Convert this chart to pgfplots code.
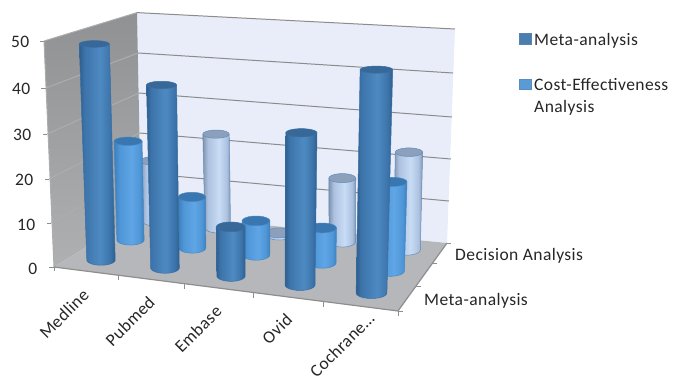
\documentclass[border=0pt]{standalone}
\usepackage{pgfplots}
\usepackage{pgfplotstable}
\usepackage{fontspec}
\setmainfont{Carlito}
\newfontfamily\chartfont[LetterSpace=2.5]{Carlito}
\pgfplotsset{compat=1.18}

\definecolor{txt}{HTML}{262626}
\definecolor{backwall}{HTML}{E8EDF9}
\definecolor{floorc}{HTML}{B5B7BA}
\definecolor{sidetop}{HTML}{8F9193}
\definecolor{sidebot}{HTML}{AEB0B2}
\definecolor{gridc}{HTML}{8C8C8C}
\definecolor{gridside}{HTML}{ABADAF}
\definecolor{axisc}{HTML}{8E8E8E}
% Column colours: edge, shoulder, centre, top face, outline
\definecolor{mE}{RGB}{46,94,140}\definecolor{mS}{RGB}{60,116,170}\definecolor{mC}{RGB}{78,138,194}
\definecolor{mT}{RGB}{56,104,152}\definecolor{mO}{RGB}{56,110,165}
\definecolor{cE}{RGB}{62,126,186}\definecolor{cS}{RGB}{78,150,215}\definecolor{cC}{RGB}{96,166,230}
\definecolor{cT}{RGB}{58,118,175}\definecolor{cO}{RGB}{70,135,195}
\definecolor{dE}{RGB}{130,148,172}\definecolor{dS}{RGB}{172,194,224}\definecolor{dC}{RGB}{200,220,245}
\definecolor{dT}{RGB}{140,160,188}\definecolor{dO}{RGB}{96,140,186}
\definecolor{legA}{RGB}{74,126,175}\definecolor{legB}{RGB}{91,155,213}
\definecolor{legAo}{RGB}{90,130,175}\definecolor{legBo}{RGB}{90,140,190}

% Cylinder body shadings, edge to centre to edge
\pgfdeclarehorizontalshading{cylmeta}{100bp}{
  color(0bp)=(mE); color(25bp)=(mE); color(32bp)=(mS); color(54bp)=(mC);
  color(68bp)=(mS); color(75bp)=(mE); color(100bp)=(mE)}
\pgfdeclarehorizontalshading{cylcost}{100bp}{
  color(0bp)=(cE); color(25bp)=(cE); color(34bp)=(cS); color(54bp)=(cC);
  color(68bp)=(cS); color(75bp)=(cE); color(100bp)=(cE)}
\pgfdeclarehorizontalshading{cyldec}{100bp}{
  color(0bp)=(dE); color(25bp)=(dE); color(34bp)=(dS); color(54bp)=(dC);
  color(68bp)=(dS); color(75bp)=(dE); color(100bp)=(dE)}

% One table per series: value, base centre (xb,yb), base half width, lean of the column
\pgfplotstableread{
cat value xb    yb  rx   lean
0   14.6  155.0 221 13.0 -0.020
1   22.5  217.8 228 12.8 -0.019
2   0.5   279.0 235 13.0  0.000
3   14.9  342.3 242 13.2  0.000
4   22.5  407.0 250 13.3  0.020
}\decisionTable
\pgfplotstableread{
cat value xb    yb  rx   lean
0   23.0  130.5 240 13.6 -0.025
1   11.7  192.3 248 13.5 -0.008
2   7.7   256.0 255 13.8  0.000
3   7.8   322.0 263 14.0  0.008
4   19.5  390.3 271 14.1  0.025
}\costTable
\pgfplotstableread{
cat value xb    yb  rx   lean
0   48.3  101.0 260 14.2 -0.031
1   40.2  165.0 268 14.3 -0.019
2   10.6  231.0 276 14.2 -0.008
3   32.3  300.0 285 15.0  0.009
4   46.6  371.5 293 15.4  0.022
}\metaTable

% Ellipse arc point list, appended to \pts
\newcommand{\addarc}[6]{%
  \foreach \a in {#5,...,#6}{%
    \pgfmathsetmacro{\px}{#1+#3*cos(\a)}%
    \pgfmathsetmacro{\py}{#2+#4*sin(\a)}%
    \xdef\pts{\pts (\px,\py)}%
  }}

% Draws the five columns of one series; px per value unit is #2 + #3*s, s along the category axis
\newcommand{\drawSeries}[6]{%
  \foreach \r in {0,...,4}{%
    \pgfplotstablegetelem{\r}{value}\of#1\let\vv\pgfplotsretval
    \pgfplotstablegetelem{\r}{xb}\of#1\let\xb\pgfplotsretval
    \pgfplotstablegetelem{\r}{yb}\of#1\let\yb\pgfplotsretval
    \pgfplotstablegetelem{\r}{rx}\of#1\let\rxb\pgfplotsretval
    \pgfplotstablegetelem{\r}{lean}\of#1\let\lean\pgfplotsretval
    \pgfmathsetmacro{\hh}{\vv*(#2+#3*(\r+0.5)/5)}%
    \pgfmathsetmacro{\yt}{\yb-\hh}%
    \pgfmathsetmacro{\xt}{\xb+\lean*\hh}%
    \pgfmathsetmacro{\rxt}{\rxb+0.004*\hh}%
    \pgfmathsetmacro{\ryb}{3+0.0085*\yb}%
    \pgfmathsetmacro{\ryt}{3+0.0085*\yt}%
    \gdef\pts{}%
    \addarc{\xb}{\yb}{\rxb}{\ryb}{0,15}{180}%
    \pgfmathsetmacro{\lx}{\xt-\rxt}\pgfmathsetmacro{\rrx}{\xt+\rxt}%
    \xdef\pts{\pts (\lx,\yt) (\rrx,\yt)}%
    \edef\cmd{\noexpand\addplot[forget plot,no markers,shade,shading=#4,draw=#6,line width=0.5bp] coordinates {\pts} --cycle;}%
    \cmd
    \gdef\pts{}%
    \addarc{\xt}{\yt}{\rxt}{\ryt}{0,20}{340}%
    \edef\cmd{\noexpand\addplot[forget plot,no markers,fill=#5,draw=#6,line width=0.5bp] coordinates {\pts} --cycle;}%
    \cmd
  }}

\begin{document}
\begin{tikzpicture}
\begin{axis}[
  at={(0,0)}, anchor=south west,
  width=673bp, height=378bp, scale only axis,
  xmin=0, xmax=673, ymin=0, ymax=378, y dir=reverse,
  hide axis, clip=false,
  every axis plot/.append style={forget plot, no markers},
]
\path (axis cs:0,0) rectangle (axis cs:673,378);

% Walls and floor
\addplot[fill=backwall,draw=none] coordinates {(137,12.6) (455,29) (447,243) (141,213)} --cycle;
\addplot[shade,top color=sidetop,bottom color=sidebot,draw=none] coordinates {(44,41) (137,12.6) (141,213) (54,267)} --cycle;
\addplot[fill=floorc,draw=none] coordinates {(54,267) (398,311) (447,243) (141,213)} --cycle;

% Gridlines on the side wall and the back wall
\addplot[gridside,line width=1bp] coordinates {(46,88) (138,53)};
\addplot[gridside,line width=1bp] coordinates {(47,134) (139,93)};
\addplot[gridside,line width=1bp] coordinates {(49,179) (139.5,133)};
\addplot[gridside,line width=1bp] coordinates {(51,223) (140,173)};
\addplot[gridside,line width=1bp] coordinates {(44,41) (137,12.6)};
\addplot[gridc,line width=1bp] coordinates {(137,12.6) (455,29)};
\addplot[gridc,line width=1bp] coordinates {(138,53) (453,73)};
\addplot[gridc,line width=1bp] coordinates {(139,93) (452,117)};
\addplot[gridc,line width=1bp] coordinates {(139.5,133) (451,159)};
\addplot[gridc,line width=1bp] coordinates {(140,173) (449,201)};

% Axis edges and tick stubs
\addplot[gridside,line width=1bp] coordinates {(44,41) (54,267)};
\addplot[axisc,line width=1.2bp] coordinates {(54,267) (398,311) (447,243)};
\addplot[axisc,line width=0.8bp] coordinates {(40,41) (44,41)};
\addplot[axisc,line width=0.8bp] coordinates {(41,88) (46,88)};
\addplot[axisc,line width=0.8bp] coordinates {(43,134) (47,134)};
\addplot[axisc,line width=0.8bp] coordinates {(45,179) (49,179)};
\addplot[axisc,line width=0.8bp] coordinates {(47,223) (51,223)};
\addplot[axisc,line width=0.8bp] coordinates {(49,267) (54,267)};
\addplot[axisc,line width=0.8bp] coordinates {(54,267) (54,271)};
\addplot[axisc,line width=0.8bp] coordinates {(118,275) (118,280)};
\addplot[axisc,line width=0.8bp] coordinates {(184,284) (184,289)};
\addplot[axisc,line width=0.8bp] coordinates {(253,293) (253,298)};
\addplot[axisc,line width=0.8bp] coordinates {(323,302) (323,307)};
\addplot[axisc,line width=0.8bp] coordinates {(398,311) (398,316)};
\addplot[axisc,line width=0.8bp] coordinates {(398,311) (403,311)};
\addplot[axisc,line width=0.8bp] coordinates {(416,286) (421,286)};
\addplot[axisc,line width=0.8bp] coordinates {(432.5,263) (437,263)};
\addplot[axisc,line width=0.8bp] coordinates {(447,243) (451,243)};

% Columns, rear series first
\drawSeries{\decisionTable}{4.087}{0.288}{cyldec}{dT}{dO}
\drawSeries{\costTable}{4.26}{0.345}{cylcost}{cT}{cO}
\drawSeries{\metaTable}{4.433}{0.401}{cylmeta}{mT}{mO}

% Value axis labels
\def\lab{\chartfont\fontsize{17.5bp}{20bp}\selectfont\color{txt}}
\node[anchor=east,inner sep=0pt] at (axis cs:29.5,42) {\lab 50};
\node[anchor=east,inner sep=0pt] at (axis cs:30.5,89) {\lab 40};
\node[anchor=east,inner sep=0pt] at (axis cs:31.5,135) {\lab 30};
\node[anchor=east,inner sep=0pt] at (axis cs:33.5,180) {\lab 20};
\node[anchor=east,inner sep=0pt] at (axis cs:35.5,225) {\lab 10};
\node[anchor=east,inner sep=0pt] at (axis cs:37.5,269) {\lab 0};

% Category labels
\node[rotate=45,inner sep=0pt] at (axis cs:64,314) {\lab Medline};
\node[rotate=45,inner sep=0pt] at (axis cs:130,321) {\lab Pubmed};
\node[rotate=45,inner sep=0pt] at (axis cs:198,329) {\lab Embase};
\node[rotate=45,inner sep=0pt] at (axis cs:277,329) {\lab Ovid};
\node[rotate=45,inner sep=0pt] at (axis cs:342,345) {\lab Cochrane…};

% Series labels on the depth axis
\node[anchor=west,inner sep=0pt] at (axis cs:455,255.5) {\lab Decision Analysis};
\node[anchor=west,inner sep=0pt] at (axis cs:424,300.5) {\lab Meta-analysis};

% Legend
\addplot[fill=legA,draw=legAo] coordinates {(519,33) (531,33) (531,44) (519,44)} --cycle;
\addplot[fill=legB,draw=legBo] coordinates {(519,79) (531,79) (531,89) (519,89)} --cycle;
\node[anchor=west,inner sep=0pt] at (axis cs:534,40.5) {\lab Meta-analysis};
\node[anchor=west,inner sep=0pt] at (axis cs:534,85) {\lab Cost-Effectiveness};
\node[anchor=west,inner sep=0pt] at (axis cs:534,108) {\lab Analysis};
\end{axis}
\end{tikzpicture}
\end{document}
